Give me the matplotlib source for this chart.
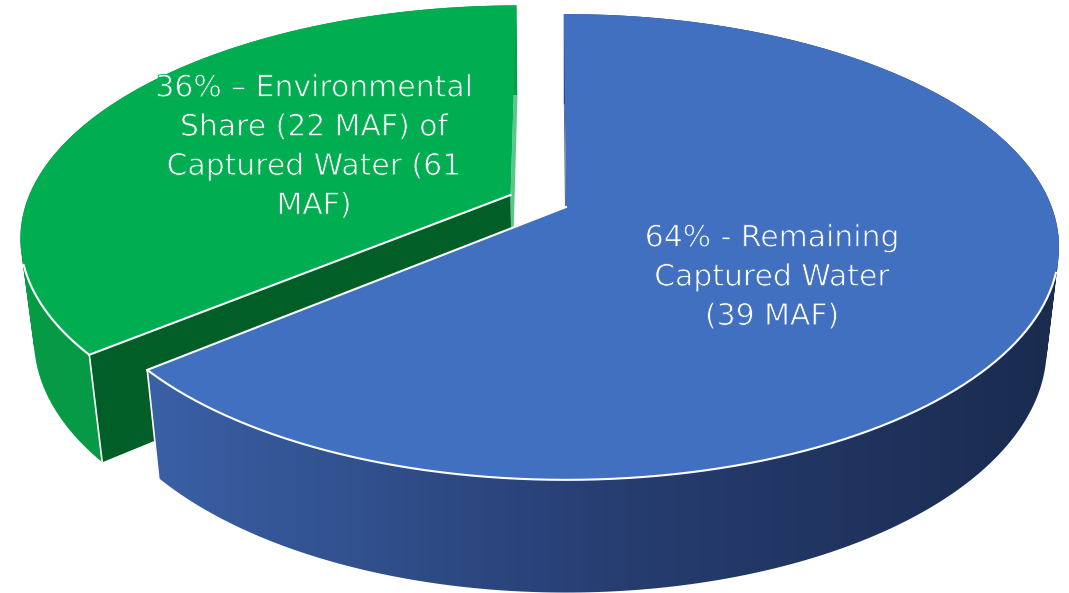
import numpy as np
import matplotlib
matplotlib.use('Agg')
import matplotlib.pyplot as plt
import matplotlib.patheffects as pe
from matplotlib.colors import LinearSegmentedColormap
from matplotlib.patches import PathPatch, Polygon
from matplotlib.path import Path

# data
shares = [64, 36]
labels = [
    ['64% - Remaining', 'Captured Water', '(39 MAF)'],
    ['36% \u2013 Environmental', 'Share (22 MAF) of', 'Captured Water (61', 'MAF)'],
]

# camera of the fake 3d pie, in pixels
W, H = 1069, 593
CX, CY = 566, 207
RX, RY = 485.7, 226
DEPTH = 103
K, Q = 0.1717, 0.025
ROT = -0.3
EXPLODE = [0, 0.127]

TOP = ['#4170C0', '#00AD50']
CUT_START = ['#59678c', '#005E26']
CUT_END = ['#1f3564', '#5cc78c']
WALL = [['#3A60A6', '#273E72', '#1A2B4F'], ['#069A45', '#0A9C49', '#0A9C49']]


def project(theta, z, mid=0, e=0, hub=False):
    t = np.radians(theta)
    m = np.radians(mid)
    x = e * np.sin(m) + (0 if hub else np.sin(t))
    y = e * np.cos(m) + (0 if hub else np.cos(t))
    w = 1 + K * y + Q * z
    return np.column_stack([CX + RX * x / w, CY - (RY * y - DEPTH * z) / w])


def swept_wall(rim, low):
    # one quad per step, all turned the same way so that they add up
    verts = []
    codes = []
    for j in range(len(rim) - 1):
        q = np.array([rim[j], rim[j + 1], low[j + 1], low[j]])
        x, y = q[:, 0], q[:, 1]
        if np.sum(x * np.roll(y, -1) - np.roll(x, -1) * y) < 0:
            q = q[::-1]
        verts.extend(list(q) + [q[0]])
        codes.extend([Path.MOVETO, Path.LINETO, Path.LINETO, Path.LINETO, Path.CLOSEPOLY])
    return Path(np.array(verts), codes)


fig = plt.figure(figsize=(W / 100, H / 100), dpi=100)
ax = fig.add_axes([0, 0, 1, 1])

# the green slice goes first, the blue one lies in front of it
edges = np.cumsum([0] + shares) * 3.6 + ROT
for i in [1, 0]:
    a, b = edges[i], edges[i + 1]
    mid = (a + b) / 2
    e = EXPLODE[i]
    base = i * -10
    th = np.linspace(a, b, 300)
    rim = project(th, 0, mid, e)
    low = project(th, 1, mid, e)
    hub = project(a, 0, mid, e, hub=True)
    hub_low = project(a, 1, mid, e, hub=True)

    # cut faces
    ax.add_patch(Polygon(np.vstack([hub, rim[:1], low[:1], hub_low]), fc=CUT_START[i], ec='none', zorder=base + 11))
    ax.add_patch(Polygon(np.vstack([hub, rim[-1:], low[-1:], hub_low]), fc=CUT_END[i], ec='none', zorder=base + 11))

    # outer wall with a left to right gradient
    wall = swept_wall(rim, low)
    cmap = LinearSegmentedColormap.from_list('wall', WALL[i])
    x0, x1 = rim[:, 0].min(), rim[:, 0].max()
    img = ax.imshow(np.linspace(0, 1, 256)[None, :], cmap=cmap, extent=[x0, x1, H, 0], aspect='auto', zorder=base + 12)
    img.set_clip_path(PathPatch(wall, transform=ax.transData))

    # top face
    ax.add_patch(Polygon(np.vstack([hub, rim]), fc=TOP[i], ec='none', zorder=base + 13))

    # white lines only on the front of the rim
    side_y = rim[np.argmax(np.abs(rim[:, 0] - CX)), 1]
    rim_line = np.where(rim[:, 1] > side_y + 25, rim[:, 0], np.nan)
    ax.plot(rim_line, rim[:, 1], color='white', lw=1.5, zorder=base + 14, solid_capstyle='round')
    k = -1 if i == 0 else 0
    ax.plot(*np.vstack([hub, rim[k:k + 1 or None]]).T, color='white', lw=1.5, zorder=base + 14)
    ax.plot(*np.vstack([rim[k:k + 1 or None], low[k:k + 1 or None]]).T, color='white', lw=1.2, zorder=base + 14)

ax.set_xlim(0, W)
ax.set_ylim(H, 0)
ax.axis('off')

# labels, the thin stroke in the slice colour makes the letters lighter
for lines, x, y0, bg in [(labels[0], 772, 238, TOP[0]), (labels[1], 314, 88, TOP[1])]:
    for n, line in enumerate(lines):
        t = ax.text(x, y0 + n * 39.2, line, color='white', family='DejaVu Sans', fontsize=21.5,
                    ha='center', va='center', zorder=30)
        t.set_path_effects([pe.Stroke(linewidth=0.6, foreground=bg)])

fig.savefig('out.png', dpi=100, facecolor='white')
